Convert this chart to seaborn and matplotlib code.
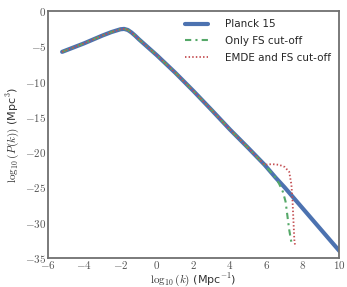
import numpy as np
import pandas as pd
import matplotlib
matplotlib.use("Agg")
import matplotlib.pyplot as plt
import seaborn as sns
from matplotlib.ticker import FuncFormatter, MultipleLocator

# values (log10 k, log10 P(k))
logk = [-5.2, -4.0, -3.0, -2.5, -2.0, -1.8, -1.6, -1.4, -1.2, -1.0, -0.5, 0.0, 1.0,
        2.0, 3.0, 4.0, 5.0, 5.9, 6.0, 6.5, 7.0, 8.0, 9.0, 10.0]
logP_planck = [-5.8, -4.6, -3.5, -3.0, -2.6, -2.55, -2.7, -3.05, -3.5, -4.0, -5.15, -6.3, -8.75,
               -11.35, -14.05, -16.8, -19.4, -21.8, -22.1, -23.6, -25.0, -28.0, -31.0, -34.0]

logk_fs = [-5.2, -4.0, -3.0, -2.5, -2.0, -1.8, -1.6, -1.4, -1.2, -1.0, -0.5, 0.0, 1.0,
           2.0, 3.0, 4.0, 5.0, 6.0, 6.5, 6.7, 6.9, 7.05, 7.15, 7.25, 7.35, 7.42]
logP_fs = [-5.8, -4.6, -3.5, -3.0, -2.6, -2.55, -2.7, -3.05, -3.5, -4.0, -5.15, -6.3, -8.75,
           -11.35, -14.05, -16.8, -19.4, -22.1, -23.6, -24.5, -25.6, -27.0, -29.0, -31.0, -32.5, -33.2]

logk_emde = [-5.2, -4.0, -3.0, -2.5, -2.0, -1.8, -1.6, -1.4, -1.2, -1.0, -0.5, 0.0, 1.0,
             2.0, 3.0, 4.0, 5.0, 5.9, 6.3, 6.7, 7.0, 7.25, 7.37, 7.43, 7.48, 7.53, 7.58]
logP_emde = [-5.8, -4.6, -3.5, -3.0, -2.6, -2.55, -2.7, -3.05, -3.5, -4.0, -5.15, -6.3, -8.75,
             -11.35, -14.05, -16.8, -19.4, -21.8, -21.7, -21.8, -22.1, -22.8, -24.6, -26.8, -29.6, -32.4, -33.4]

labels = ["Planck 15", "Only FS cut-off", "EMDE and FS cut-off"]

sns.set_theme(style="white")
plt.rcParams["mathtext.fontset"] = "cm"
plt.rcParams["font.family"] = ["DejaVu Sans"]
pal = sns.color_palette("deep")

fig = plt.figure(figsize=(3.47, 2.87), dpi=100)
ax = fig.add_axes([0.137, 0.101, 0.841, 0.861])

sns.lineplot(x=logk, y=logP_planck, ax=ax, color=pal[0], lw=3.0, label=labels[0],
             sort=False)
sns.lineplot(x=logk_fs, y=logP_fs, ax=ax, color=pal[2], lw=1.5, ls=(0, (3, 2, 1, 2)),
             label=labels[1], sort=False)
sns.lineplot(x=logk_emde, y=logP_emde, ax=ax, color=pal[3], lw=1.3, ls=(0, (0.8, 1.2)),
             label=labels[2], sort=False)

ax.set_xlim(-6, 10)
ax.set_ylim(-35, 0)
ax.xaxis.set_major_locator(MultipleLocator(2))
ax.yaxis.set_major_locator(MultipleLocator(5))
fmt = FuncFormatter(lambda v, p: r"$%d$" % round(v))
ax.xaxis.set_major_formatter(fmt)
ax.yaxis.set_major_formatter(fmt)
ax.tick_params(labelsize=8, colors="#555555", pad=1, length=0)
for s in ax.spines.values():
    s.set_color("#707070")
    s.set_linewidth(1.3)

ax.set_xlabel(r"$\log_{10}(k)$ (Mpc$^{-1}$)", fontsize=8, color="#333333")
ax.xaxis.set_label_coords(0.5, -0.054)
ax.set_ylabel(r"$\log_{10}(P(k))$ (Mpc$^3$)", fontsize=8, color="#333333", labelpad=3)

ax.legend(loc="upper right", frameon=False, fontsize=7.5, handlelength=2.2,
          handletextpad=1.6, borderaxespad=0.4, labelspacing=0.65)

fig.savefig("out.png", dpi=100)
